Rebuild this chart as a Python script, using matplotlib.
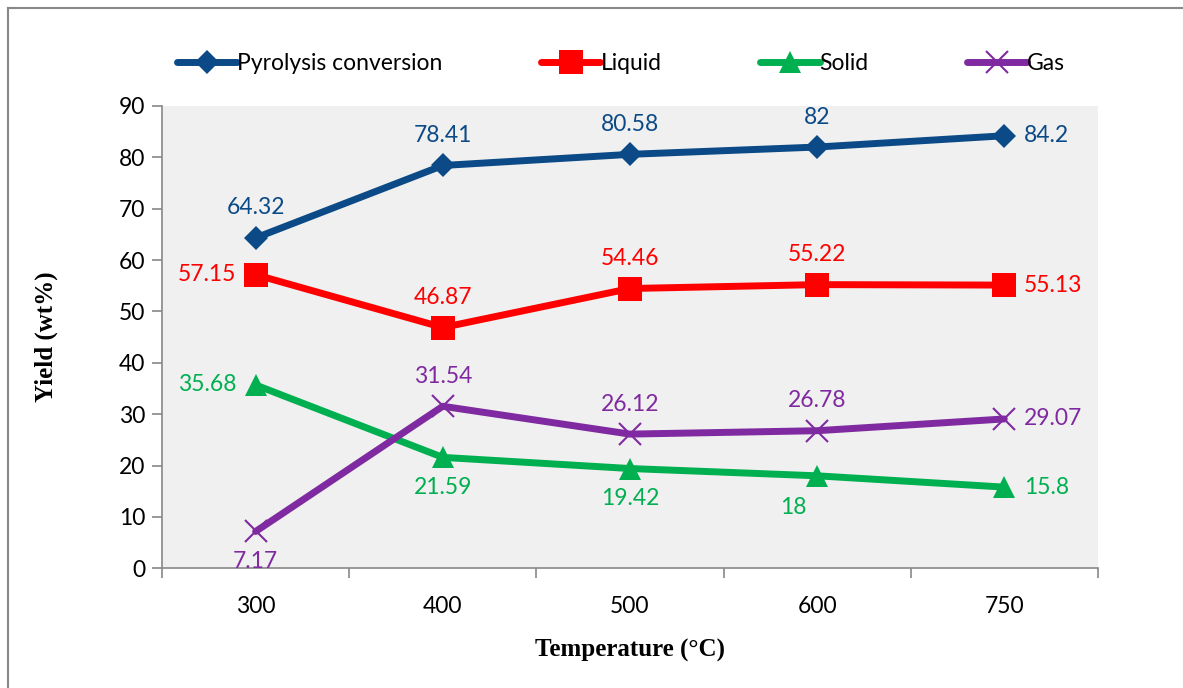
import matplotlib.pyplot as plt
from matplotlib.lines import Line2D
import numpy as np

# data
temperatures = ["300", "400", "500", "600", "750"]
conversion = [64.32, 78.41, 80.58, 82, 84.2]
liquid = [57.15, 46.87, 54.46, 55.22, 55.13]
solid = [35.68, 21.59, 19.42, 18, 15.8]
gas = [7.17, 31.54, 26.12, 26.78, 29.07]

LABEL_FONT = "Lato"
TITLE_FONT = "Liberation Serif"
FS = 16.5


def add_labels(ax, values, color, places):
	"""Write the value next to each point; places gives the side"""
	offsets = {"above": (0, 14, "center", "bottom"),
			   "below": (0, -14, "center", "top"),
			   "left": (-14, 0, "right", "center"),
			   "right": (14, 0, "left", "center"),
			   "belowleft": (-17, -15, "center", "top")}
	for i, (v, p) in enumerate(zip(values, places)):
		dx, dy, ha, va = offsets[p]
		ax.annotate(f"{v:g}", (i, v), xytext=(dx, dy), textcoords="offset points",
					ha=ha, va=va, color=color, fontsize=FS, family=LABEL_FONT)


def main():
	fig = plt.figure(figsize=(11.83, 6.88), dpi=100)
	ax = fig.add_axes([0.137, 0.174, 0.791, 0.672])
	ax.set_facecolor("#F0F0F0")

	x = np.arange(len(temperatures))
	series = [
		("Pyrolysis conversion", conversion, "#0B4A86", "D", 12,
		 ["above", "above", "above", "above", "right"]),
		("Liquid", liquid, "#FF0000", "s", 17,
		 ["left", "above", "above", "above", "right"]),
		("Solid", solid, "#00B050", "^", 16,
		 ["left", "below", "below", "belowleft", "right"]),
		("Gas", gas, "#7F2AA0", "x", 16,
		 ["below", "above", "above", "above", "right"]),
	]
	for name, vals, color, marker, ms, places in series:
		ax.plot(x, vals, color=color, lw=5, marker=marker, markersize=ms,
				markeredgewidth=1.5 if marker == "x" else 0, label=name,
				solid_capstyle="round")
		add_labels(ax, vals, color, places)

	ax.set_xlim(-0.5, len(temperatures) - 0.5)
	ax.set_ylim(0, 90)
	ax.set_yticks(np.arange(0, 91, 10))
	ax.set_xticks(x)
	ax.set_xticklabels(temperatures)
	ax.set_xticks(np.arange(-0.5, len(temperatures)), minor=True)
	ax.tick_params(axis="x", which="major", length=0, pad=20)
	ax.tick_params(axis="x", which="minor", length=7, color="#888888", width=1.2)
	ax.tick_params(axis="y", length=7, color="#888888", width=1.2, pad=5)
	for lab in ax.get_xticklabels() + ax.get_yticklabels():
		lab.set_fontsize(FS)
		lab.set_family(LABEL_FONT)
	for side in ["top", "right"]:
		ax.spines[side].set_visible(False)
	for side in ["left", "bottom"]:
		ax.spines[side].set_color("#888888")
		ax.spines[side].set_linewidth(1.2)

	ax.set_xlabel("Temperature (\u00b0C)", fontsize=18, fontweight="bold",
				  family=TITLE_FONT, labelpad=16)
	ax.set_ylabel("Yield (wt%)", fontsize=18, fontweight="bold",
				  family=TITLE_FONT, labelpad=44)

	fig.legend(loc="center", bbox_to_anchor=(0.525, 0.907), ncol=4, frameon=False,
			   handlelength=2.6, handletextpad=0.0, columnspacing=4.3,
			   prop={"family": LABEL_FONT, "size": FS})

	# outer chart border (top and left visible)
	fig.add_artist(Line2D([0.007, 1.0], [0.988, 0.988], color="#888888", lw=1.5,
						  transform=fig.transFigure))
	fig.add_artist(Line2D([0.007, 0.007], [0.0, 0.988], color="#888888", lw=1.5,
						  transform=fig.transFigure))

	fig.savefig("out.png", dpi=100)


if __name__ == "__main__":
	main()
